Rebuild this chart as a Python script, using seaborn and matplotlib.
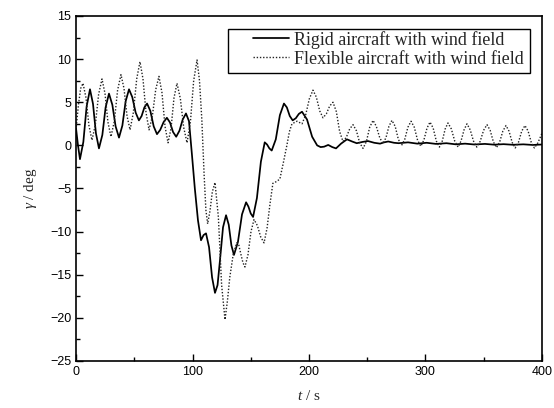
import numpy as np
import pandas as pd
import matplotlib
matplotlib.use("Agg")
import matplotlib.pyplot as plt
import seaborn as sns
from matplotlib.ticker import MultipleLocator
from matplotlib.patches import Rectangle

# ---------------- data ----------------
rigid_t = [0, 1.7, 3.4, 6.3, 9.1, 12.0, 14.6, 17.1, 19.7, 22.6, 25.4, 28.3, 31.2, 34.0,
           36.9, 39.8, 42.6, 45.5, 48.3, 51.2, 54.0, 56.3, 58.7, 61.0, 63.8, 66.7, 69.5,
           72.3, 75.2, 78.0, 80.7, 83.3, 86.0, 88.8, 91.6, 94.4, 97.0, 99.6, 102.0, 104.7,
           107.3, 109.5, 111.6, 114.2, 116.8, 119.3, 121.5, 123.6, 126.2, 128.8, 131.1,
           133.4, 135.6, 139.0, 142.5, 146.0, 148.0, 150.0, 152.0, 155.3, 158.7, 162.0,
           164.0, 166.0, 168.0, 171.5, 175.0, 178.5, 181.0, 183.5, 186.0, 188.7, 191.3,
           194.0, 198.3, 202.7, 207.0, 210.0, 213.0, 216.5, 220.0, 223.2, 227.5, 232.6,
           237.0, 241.0, 246.0, 250.6, 256.0, 261.0, 264.5, 268.0, 273.0, 277.0, 285.0,
           293.0, 301.0, 309.0, 318.0, 326.0, 334.0, 342.0, 351.0, 359.0, 367.0, 375.0,
           384.0, 392.0, 400.0]
rigid_v = [2.0, 0.0, -1.6, 0.4, 4.5, 6.5, 4.8, 1.4, -0.35, 1.2, 4.4, 6.0, 4.7, 2.2,
           0.9, 2.3, 5.1, 6.5, 5.6, 3.8, 2.9, 3.4, 4.4, 4.85, 4.0, 2.2, 1.3,
           1.8, 2.7, 3.2, 2.65, 1.55, 1.0, 1.7, 3.0, 3.7, 2.8, -1.2, -5.0, -8.7,
           -11.0, -10.4, -10.2, -11.8, -15.3, -17.1, -16.2, -13.3, -9.5, -8.1, -9.2,
           -11.6, -12.7, -11.2, -8.0, -6.6, -7.1, -7.9, -8.3, -6.1, -1.9, 0.35,
           0.1, -0.35, -0.6, 0.7, 3.5, 4.85, 4.4, 3.4, 2.9, 3.15, 3.65,
           3.9, 3.0, 1.0, 0.0, -0.2, -0.15, 0.05, -0.2, -0.35, 0.2, 0.7,
           0.45, 0.25, 0.4, 0.5, 0.3, 0.2, 0.35, 0.45, 0.3, 0.25, 0.35,
           0.2, 0.3, 0.17, 0.25, 0.12, 0.2, 0.1, 0.17, 0.08, 0.14, 0.07,
           0.12, 0.05, 0.1]

flex_t = [0, 2.0, 4.0, 6.0, 8.6, 11.1, 13.7, 16.6, 19.4, 22.3, 24.9, 27.4, 30.0, 32.9,
          35.7, 38.6, 41.2, 43.8, 46.4, 49.2, 52.1, 54.9, 57.5, 60.1, 62.7, 65.5, 68.4,
          71.2, 73.8, 76.4, 79.0, 81.6, 84.1, 86.7, 89.6, 92.4, 95.3, 98.2, 101.0, 103.9,
          106.0, 108.0, 110.0, 111.5, 113.0, 115.0, 117.0, 119.3, 122.2, 125.0, 127.9,
          130.0, 132.0, 135.0, 138.0, 139.5, 141.5, 143.3, 145.0, 147.6, 150.2, 152.8,
          155.7, 158.5, 161.4, 164.0, 166.5, 169.0, 172.0, 175.0, 178.0, 181.0, 183.2,
          185.4, 189.7, 194.0, 197.1, 200.3, 203.4, 206.3, 209.2, 212.0, 214.9, 217.7,
          220.6, 223.5, 226.3, 229.2, 232.1, 234.9, 237.8, 240.7, 243.5, 246.4, 249.3,
          252.1, 255.0, 257.8, 260.7, 263.5, 266.1, 268.6, 271.2, 274.0, 276.7, 279.5,
          282.2, 284.9, 287.6, 290.4, 293.2, 296.0, 298.6, 301.3, 303.9, 306.6, 309.3,
          312.0, 314.4, 316.9, 319.3, 322.2, 325.1, 328.0, 330.5, 333.1, 335.6, 338.4,
          341.2, 344.0, 346.9, 349.9, 352.8, 355.5, 358.3, 361.0, 363.7, 366.4, 369.1,
          371.7, 374.4, 377.0, 379.8, 382.6, 385.4, 388.1, 390.8, 393.5, 396.5, 400.0]
flex_v = [1.8, 4.6, 6.6, 7.2, 5.5, 2.3, 0.6, 2.4, 5.9, 7.7, 6.0, 2.7, 1.0, 2.8,
          6.4, 8.2, 6.6, 3.4, 1.8, 3.8, 7.7, 9.7, 7.7, 3.8, 1.8, 3.35, 6.45,
          8.0, 6.1, 2.2, 0.3, 2.0, 5.5, 7.2, 5.4, 2.1, 0.3, 2.7, 7.5, 9.9,
          7.5, 3.0, -3.5, -7.5, -9.1, -7.6, -5.4, -4.3, -8.3, -16.2, -20.2,
          -18.0, -15.3, -12.6, -11.3, -11.4, -12.6, -13.6, -14.1, -12.7, -10.0, -8.6,
          -9.3, -10.6, -11.3, -9.6, -6.8, -4.4, -4.2, -3.9, -2.0, 0.0, 1.6,
          2.5, 2.8, 2.5, 3.5, 5.4, 6.4, 5.6, 4.0, 3.2, 3.65, 4.55,
          5.0, 3.9, 1.6, 0.45, 0.95, 1.9, 2.4, 1.7, 0.3, -0.35, 0.45,
          2.1, 2.9, 2.2, 0.9, 0.2, 0.9, 2.2, 2.9, 2.2, 0.7, 0.0,
          0.7, 2.1, 2.8, 2.1, 0.6, -0.1, 0.6, 2.0, 2.7, 2.0, 0.5,
          -0.2, 0.5, 1.9, 2.6, 1.9, 0.5, -0.2, 0.5, 1.8, 2.5, 1.8,
          0.5, -0.2, 0.45, 1.75, 2.4, 1.75, 0.4, -0.25, 0.4, 1.65, 2.3,
          1.65, 0.35, -0.3, 0.35, 1.65, 2.3, 1.65, 0.35, -0.3, 0.3, 1.4]

series_names = ["Rigid aircraft with wind field", "Flexible aircraft with wind field"]
x_ticks = [0, 100, 200, 300, 400]
y_ticks = [-25, -20, -15, -10, -5, 0, 5, 10, 15]

# ---------------- figure ----------------
sns.set_theme(style="ticks")
plt.rcParams["font.family"] = ["Liberation Sans", "DejaVu Sans"]
plt.rcParams["mathtext.fontset"] = "custom"
plt.rcParams["mathtext.it"] = "Liberation Serif:italic"
plt.rcParams["mathtext.rm"] = "Liberation Serif"

fig = plt.figure(figsize=(5.54, 4.08), dpi=100)
ax = fig.add_axes([0.1372, 0.1152, 0.8411, 0.8456])

df_r = pd.DataFrame({"t": rigid_t, "v": rigid_v})
df_f = pd.DataFrame({"t": flex_t, "v": flex_v})

sns.lineplot(data=df_r, x="t", y="v", ax=ax, color="black", linewidth=1.25,
             sort=False, estimator=None, label=series_names[0])
sns.lineplot(data=df_f, x="t", y="v", ax=ax, color="#222222", linewidth=1.0,
             linestyle=(0, (1, 1.3)), sort=False, estimator=None, label=series_names[1])

ax.set_xlim(0, 400)
ax.set_ylim(-25, 15)
ax.set_xticks(x_ticks)
ax.set_yticks(y_ticks)
ax.xaxis.set_minor_locator(MultipleLocator(50))
ax.yaxis.set_minor_locator(MultipleLocator(2.5))
ax.tick_params(which="both", direction="in", top=False, right=False,
               colors="black", labelsize=9, width=1.0)
ax.tick_params(which="major", length=5)
ax.tick_params(which="minor", length=3)
for s in ax.spines.values():
    s.set_linewidth(1.2)
    s.set_color("black")

ax.set_xlabel(r"$t$ / s", fontsize=11, family="Liberation Serif", labelpad=8)
ax.set_ylabel(r"$\gamma$ / deg", fontsize=11, family="Liberation Serif", labelpad=8)

leg = ax.legend(loc="upper left", bbox_to_anchor=(0.380, 0.957), borderaxespad=0,
                prop={"family": "Liberation Serif", "size": 13}, frameon=False,
                handlelength=2.0, handletextpad=0.25, labelspacing=0.1,
                borderpad=0.0)
# legend frame (wider than the entries, as in the reference)
ax.add_patch(Rectangle((0.326, 0.835), 0.974 - 0.326, 0.962 - 0.835,
                       transform=ax.transAxes, fill=False, edgecolor="black",
                       linewidth=1.0, zorder=5))

fig.savefig("out.png", dpi=100)
